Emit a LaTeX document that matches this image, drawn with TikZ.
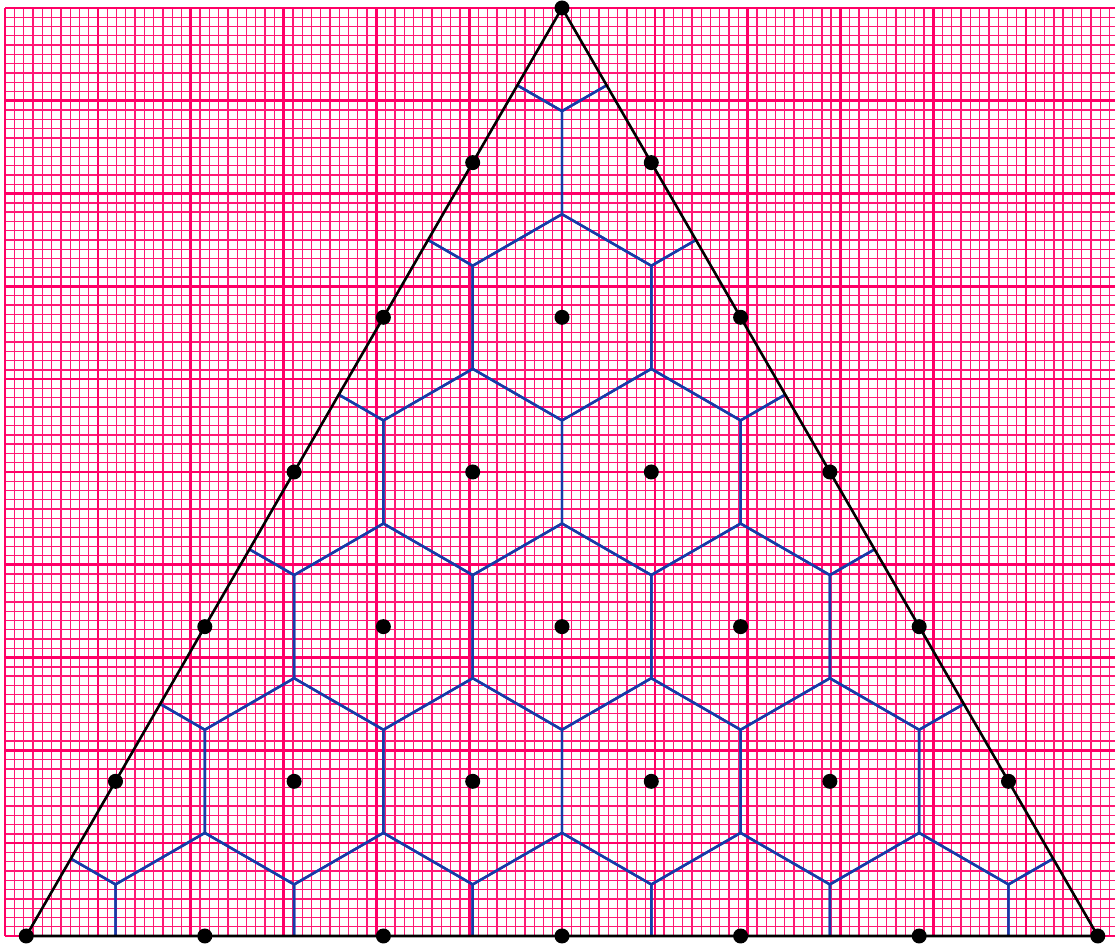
\documentclass[tikz,border=0pt]{standalone}
\usetikzlibrary{calc}

\definecolor{gridpink}{RGB}{255,0,102}
\definecolor{cellblue}{RGB}{22,58,168}

\begin{document}
\begin{tikzpicture}[line join = round]
% The page is fixed to the graph paper (a little of it is cut off on the right)
\useasboundingbox (-6.056,-0.086) rectangle (5.959,10.086);

% Define some reference points
% The triangle is 10cm high, its lattice has 6 steps on each side
\coordinate (apex)  at (0, 10);
\coordinate (left)  at (-5.7735, 0);
\coordinate (right) at (5.7735, 0);
\def\stp{1.9245}     % (lattice step)
\def\rad{1.1111}     % (radius of a cell = step/sqrt 3)

% Draw the graph paper
\draw [gridpink!90, line width = 0.4pt, step = 1mm] (-6, 0) grid (6, 10);
\draw [gridpink, line width = 0.8pt,  step = 1cm] (-6, 0) grid (6, 10);

% Draw the cells round each lattice point, cut at the triangle
\begin{scope}
  \clip (left) -- (right) -- (apex) -- cycle;
  \foreach \i in {0,...,6} {
    \foreach \j in {0,...,6} {
      \pgfmathtruncatemacro{\k}{\i + \j}
      \ifnum\k<7
        \draw [cellblue, line width = 0.75pt]
          ($(left) + (\i*\stp + \j*\stp/2, \j*0.86603*\stp)$) ++(90:\rad)
          -- ++(-30:\rad) -- ++(-90:\rad) -- ++(-150:\rad)
          -- ++(150:\rad) -- ++(90:\rad) -- cycle;
      \fi
    }
  }
\end{scope}

% Draw the triangle
\draw [black, line width = 0.8pt] (left) -- (right) -- (apex) -- cycle;

% lattice points
\foreach \i in {0,...,6} {
  \foreach \j in {0,...,6} {
    \pgfmathtruncatemacro{\k}{\i + \j}
    \ifnum\k<7
      \fill [black] ($(left) + (\i*\stp + \j*\stp/2, \j*0.86603*\stp)$) circle (2.3pt);
    \fi
  }
}

\end{tikzpicture}
\end{document}
